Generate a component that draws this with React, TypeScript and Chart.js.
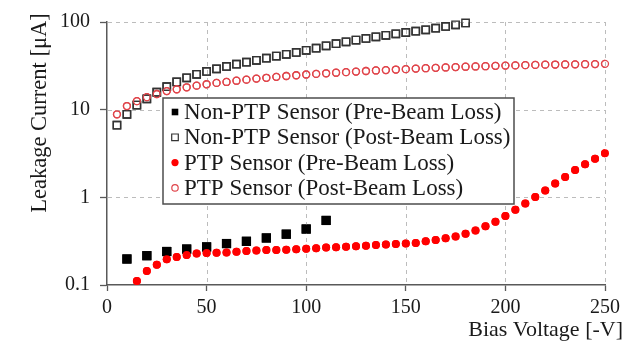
import React, { useEffect, useRef } from "react";
import { Chart, registerables } from "chart.js";

Chart.register(...registerables);

// ---------------- data ----------------
const seriesLabels = [
  "Non-PTP Sensor (Pre-Beam Loss)",
  "Non-PTP Sensor (Post-Beam Loss)",
  "PTP Sensor (Pre-Beam Loss)",
  "PTP Sensor (Post-Beam Loss)",
];

const nonPtpPreV = [10, 20, 30, 40, 50, 60, 70, 80, 90, 100, 110];
const nonPtpPre = [0.198, 0.216, 0.241, 0.257, 0.272, 0.297, 0.315, 0.344, 0.38, 0.435, 0.545];

const nonPtpPostV = [
  5, 10, 15, 20, 25, 30, 35, 40, 45, 50, 55, 60, 65, 70, 75, 80, 85, 90,
  95, 100, 105, 110, 115, 120, 125, 130, 135, 140, 145, 150, 155, 160, 165, 170, 175, 180,
];
const nonPtpPost = [
  6.65, 8.85, 11.3, 13.3, 15.8, 18.3, 20.7, 23.1, 25.3, 27.3, 29.2, 31.1, 33.0, 34.8, 36.6, 38.6, 40.9, 42.8,
  45.0, 47.5, 50.3, 53.5, 56.5, 59.5, 62.3, 65.0, 67.8, 70.5, 73.3, 75.9, 78.6, 81.5, 84.9, 89.0, 93.0, 97.5,
];

const ptpPreV = [
  15, 20, 25, 30, 35, 40, 45, 50, 55, 60, 65, 70, 75, 80, 85, 90, 95, 100, 105, 110, 115, 120,
  125, 130, 135, 140, 145, 150, 155, 160, 165, 170, 175, 180, 185, 190, 195, 200, 205, 210,
  215, 220, 225, 230, 235, 240, 245, 250,
];
const ptpPre = [
  0.111, 0.144, 0.17, 0.197, 0.208, 0.22, 0.229, 0.231, 0.234, 0.235, 0.24, 0.244, 0.248, 0.25, 0.251, 0.252, 0.255, 0.259, 0.263, 0.267, 0.27, 0.273,
  0.276, 0.28, 0.286, 0.29, 0.294, 0.298, 0.302, 0.315, 0.326, 0.341, 0.358, 0.383, 0.418, 0.467, 0.527, 0.611, 0.72, 0.849,
  1.01, 1.2, 1.44, 1.71, 2.05, 2.38, 2.75, 3.19,
];

const ptpPostV = [
  5, 10, 15, 20, 25, 30, 35, 40, 45, 50, 55, 60, 65, 70, 75, 80, 85, 90, 95, 100, 105, 110, 115, 120, 125,
  130, 135, 140, 145, 150, 155, 160, 165, 170, 175, 180, 185, 190, 195, 200, 205, 210, 215, 220, 225, 230, 235, 240, 245, 250,
];
const ptpPost = [
  8.85, 11.0, 12.5, 13.9, 15.1, 16.3, 17.1, 18.0, 18.8, 19.5, 20.2, 20.7, 21.4, 22.0, 22.6, 23.1, 23.7, 24.2, 24.7, 25.2, 25.6, 26.0, 26.4, 26.8, 27.2,
  27.6, 28.0, 28.3, 28.7, 29.0, 29.4, 29.7, 30.0, 30.3, 30.6, 30.9, 31.1, 31.3, 31.6, 31.8, 32.0, 32.2, 32.4, 32.6, 32.7, 32.8, 32.9, 33.0, 33.1, 33.3,
];

const xTicks = [0, 50, 100, 150, 200, 250];
const yTicks = [0.1, 1, 10, 100];
const xTitle = "Bias Voltage [-V]";
const yTitle = "Leakage Current [\u03bcA]";

// ---------------- styles ----------------
const FONT = "'Liberation Serif', 'Times New Roman', serif";
const AXIS = "#595959";
const GRID = "#bcbcbc";
const TEXT = "#1a1a1a";

const markers = [
  { style: "rect", radius: 6.5, fill: "#000000", stroke: "#000000", width: 0 },
  { style: "rect", radius: 5.2, fill: "rgba(255,255,255,0)", stroke: "#333333", width: 1.4 },
  { style: "circle", radius: 4, fill: "#ff0000", stroke: "#ff0000", width: 0 },
  { style: "circle", radius: 3.5, fill: "rgba(255,255,255,0)", stroke: "#e0454b", width: 1.3 },
];

const toPoints = (xs: number[], ys: number[]) => xs.map((x, i) => ({ x, y: ys[i] }));

function drawGrid(chart: any) {
  const { ctx, chartArea, scales } = chart;
  const xs = scales["x"];
  const ys = scales["y"];
  ctx.save();
  ctx.strokeStyle = GRID;
  ctx.lineWidth = 1;
  ctx.setLineDash([4, 4]);
  for (let i = 1; i < xTicks.length; i++) {
    const x = Math.round(xs.getPixelForValue(xTicks[i])) + 0.5;
    ctx.beginPath();
    ctx.moveTo(x, chartArea.top);
    ctx.lineTo(x, chartArea.bottom - 1);
    ctx.stroke();
  }
  for (let i = 1; i < yTicks.length; i++) {
    const y = Math.round(ys.getPixelForValue(yTicks[i])) + 0.5;
    ctx.beginPath();
    ctx.moveTo(chartArea.left + 1, y);
    ctx.lineTo(chartArea.right, y);
    ctx.stroke();
  }
  ctx.restore();
}

const overlayPlugin = {
  id: "overlay",
  afterDraw(chart: any) {
    const { ctx, chartArea } = chart;
    // grid under the marks: draw grid, then redraw the datasets on top of it
    drawGrid(chart);
    try {
      ctx.save();
      ctx.beginPath();
      ctx.rect(chartArea.left - 8, chartArea.top - 8, chartArea.right - chartArea.left + 16, chartArea.bottom - chartArea.top + 16);
      ctx.clip();
      chart.getSortedVisibleDatasetMetas().forEach((meta: any) => {
        meta.controller.draw();
      });
      ctx.restore();
    } catch (e) {
      ctx.restore();
    }

    ctx.save();
    ctx.fillStyle = TEXT;
    ctx.font = `22px ${FONT}`;
    ctx.textAlign = "right";
    ctx.textBaseline = "middle";
    ctx.fillText(xTitle, chartArea.right + 18, chartArea.bottom + 45);
    ctx.save();
    ctx.translate(40, chartArea.top + 91);
    ctx.rotate(-Math.PI / 2);
    ctx.textAlign = "center";
    ctx.font = `22.5px ${FONT}`;
    ctx.fillText(yTitle, 0, 0);
    ctx.restore();

    const left = chartArea.left + 56;
    const top = chartArea.top + 76;
    const w = 351;
    const h = 106;
    ctx.fillStyle = "#ffffff";
    ctx.fillRect(left, top, w, h);
    ctx.strokeStyle = "#4d4d4d";
    ctx.lineWidth = 1.5;
    ctx.strokeRect(left, top, w, h);
    const rowH = 25.3;
    ctx.font = `23px ${FONT}`;
    ctx.textBaseline = "middle";
    ctx.textAlign = "left";
    seriesLabels.forEach((lab, i) => {
      const cy = top + 14 + rowH * i;
      const cx = left + 12;
      const m = markers[i];
      ctx.beginPath();
      if (m.style === "rect") {
        ctx.rect(cx - 3.3, cy - 3.3, 6.6, 6.6);
      } else {
        ctx.arc(cx, cy, i === 2 ? 3.6 : 3.2, 0, Math.PI * 2);
      }
      if (m.width === 0) {
        ctx.fillStyle = m.fill;
        ctx.fill();
      } else {
        ctx.lineWidth = 1.2;
        ctx.strokeStyle = m.stroke;
        ctx.stroke();
      }
      ctx.fillStyle = TEXT;
      ctx.fillText(lab, cx + 9, cy + 1);
    });
    ctx.restore();
  },
};

export default function App() {
  const ref = useRef<HTMLCanvasElement | null>(null);
  useEffect(() => {
    if (!ref.current) return;
    const sets = [
      toPoints(nonPtpPreV, nonPtpPre),
      toPoints(nonPtpPostV, nonPtpPost),
      toPoints(ptpPreV, ptpPre),
      toPoints(ptpPostV, ptpPost),
    ];
    const chart = new Chart(ref.current, {
      type: "scatter",
      data: {
        datasets: sets.map((d, i) => ({
          label: seriesLabels[i],
          data: d,
          pointStyle: markers[i].style as any,
          pointRadius: markers[i].radius,
          pointHoverRadius: markers[i].radius,
          backgroundColor: markers[i].fill,
          borderColor: markers[i].stroke,
          borderWidth: markers[i].width,
          showLine: false,
        })),
      },
      options: {
        animation: false,
        responsive: false,
        devicePixelRatio: 1,
        layout: { padding: { top: 19, right: 26, left: 0, bottom: 0 } },
        plugins: { legend: { display: false }, tooltip: { enabled: false } },
        scales: {
          x: {
            type: "linear",
            min: 0,
            max: 250,
            afterBuildTicks: (axis: any) => {
              axis.ticks = xTicks.map((v) => ({ value: v }));
            },
            afterFit: (s: any) => {
              s.height = 69;
            },
            ticks: {
              font: { family: FONT, size: 20 },
              color: TEXT,
              padding: 5,
              maxRotation: 0,
            },
            grid: {
              display: true,
              drawOnChartArea: false,
              tickColor: AXIS,
              tickLength: 6,
              tickWidth: 1.3,
            },
            border: { display: true, color: AXIS, width: 1.5 },
          },
          y: {
            type: "logarithmic",
            min: 0.1,
            max: 100,
            afterBuildTicks: (axis: any) => {
              axis.ticks = yTicks.map((v) => ({ value: v }));
            },
            afterFit: (s: any) => {
              s.width = 107;
            },
            ticks: {
              font: { family: FONT, size: 20 },
              color: TEXT,
              padding: 10,
              callback: (v: any) => String(v),
            },
            grid: {
              display: true,
              drawOnChartArea: false,
              tickColor: AXIS,
              tickLength: 7,
              tickWidth: 1.3,
            },
            border: { display: true, color: AXIS, width: 1.5 },
          },
        },
      },
      plugins: [overlayPlugin],
    });
    return () => chart.destroy();
  }, []);
  return (
    <div style={{ position: "absolute", left: 0, top: 0, width: 631, height: 354, background: "#fff" }}>
      <canvas ref={ref} width={631} height={354} style={{ display: "block", width: 631, height: 354 }} />
    </div>
  );
}
